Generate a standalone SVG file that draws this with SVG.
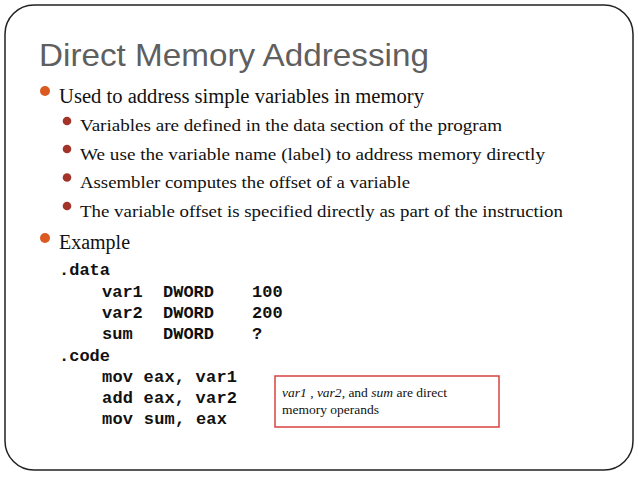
<svg xmlns="http://www.w3.org/2000/svg" width="638" height="479" viewBox="0 0 638 479">
<style>
.title{font-family:"Liberation Sans",Arial,sans-serif;font-size:32px;fill:#5f5f5f}
.l1{font-family:"Liberation Serif","Times New Roman",serif;font-size:20px;fill:#111}
.l2{font-family:"Liberation Serif","Times New Roman",serif;font-size:17px;fill:#111}
.code{font-family:"Liberation Mono","Courier New",monospace;font-size:17px;font-weight:bold;fill:#111;white-space:pre}
.note{font-family:"Liberation Serif","Times New Roman",serif;font-size:13.5px;fill:#111}
.b1{fill:#DB5A22}
.b2{fill:#A2342A}
</style>
<rect x="0" y="0" width="638" height="479" fill="#ffffff"/>
<g id="frame">
<rect x="5" y="5" width="628" height="465" rx="29" ry="29" fill="none" stroke="#222" stroke-width="1.5"/>
</g>
<g id="title">
<text class="title" x="39" y="66" textLength="390" lengthAdjust="spacingAndGlyphs">Direct Memory Addressing</text>
</g>
<g id="bullets">
<circle class="b1" cx="45" cy="91" r="5"/>
<text class="l1" x="59" y="103" textLength="365" lengthAdjust="spacingAndGlyphs">Used to address simple variables in memory</text>
<circle class="b2" cx="67" cy="121" r="4.3"/>
<text class="l2" x="80" y="131" textLength="422" lengthAdjust="spacingAndGlyphs">Variables are defined in the data section of the program</text>
<circle class="b2" cx="67" cy="149" r="4.3"/>
<text class="l2" x="80" y="159.5" textLength="465" lengthAdjust="spacingAndGlyphs">We use the variable name (label) to address memory directly</text>
<circle class="b2" cx="67" cy="177.5" r="4.3"/>
<text class="l2" x="80" y="188" textLength="330" lengthAdjust="spacingAndGlyphs">Assembler computes the offset of a variable</text>
<circle class="b2" cx="67" cy="206" r="4.3"/>
<text class="l2" x="80" y="216.5" textLength="483" lengthAdjust="spacingAndGlyphs">The variable offset is specified directly as part of the instruction</text>
<circle class="b1" cx="45" cy="238" r="5"/>
<text class="l1" x="59" y="249" textLength="71" lengthAdjust="spacingAndGlyphs">Example</text>
</g>
<g id="code">
<text class="code" x="59" y="275">.data</text>
<text class="code" x="102" y="297">var1</text><text class="code" x="163" y="297">DWORD</text><text class="code" x="252" y="297">100</text>
<text class="code" x="102" y="318">var2</text><text class="code" x="163" y="318">DWORD</text><text class="code" x="252" y="318">200</text>
<text class="code" x="102" y="339">sum</text><text class="code" x="163" y="339">DWORD</text><text class="code" x="252" y="339">?</text>
<text class="code" x="59" y="361">.code</text>
<text class="code" x="102" y="382" textLength="135">mov eax, var1</text>
<text class="code" x="102" y="403" textLength="135">add eax, var2</text>
<text class="code" x="102" y="424" textLength="125">mov sum, eax</text>
</g>
<g id="note">
<rect x="275" y="376" width="224" height="51" fill="#fff" stroke="#D9413F" stroke-width="1.5"/>
<text class="note" x="282" y="397"><tspan font-style="italic">var1</tspan> , <tspan font-style="italic">var2</tspan>, and <tspan font-style="italic">sum</tspan> are direct</text>
<text class="note" x="282" y="414">memory operands</text>
</g>
</svg>
